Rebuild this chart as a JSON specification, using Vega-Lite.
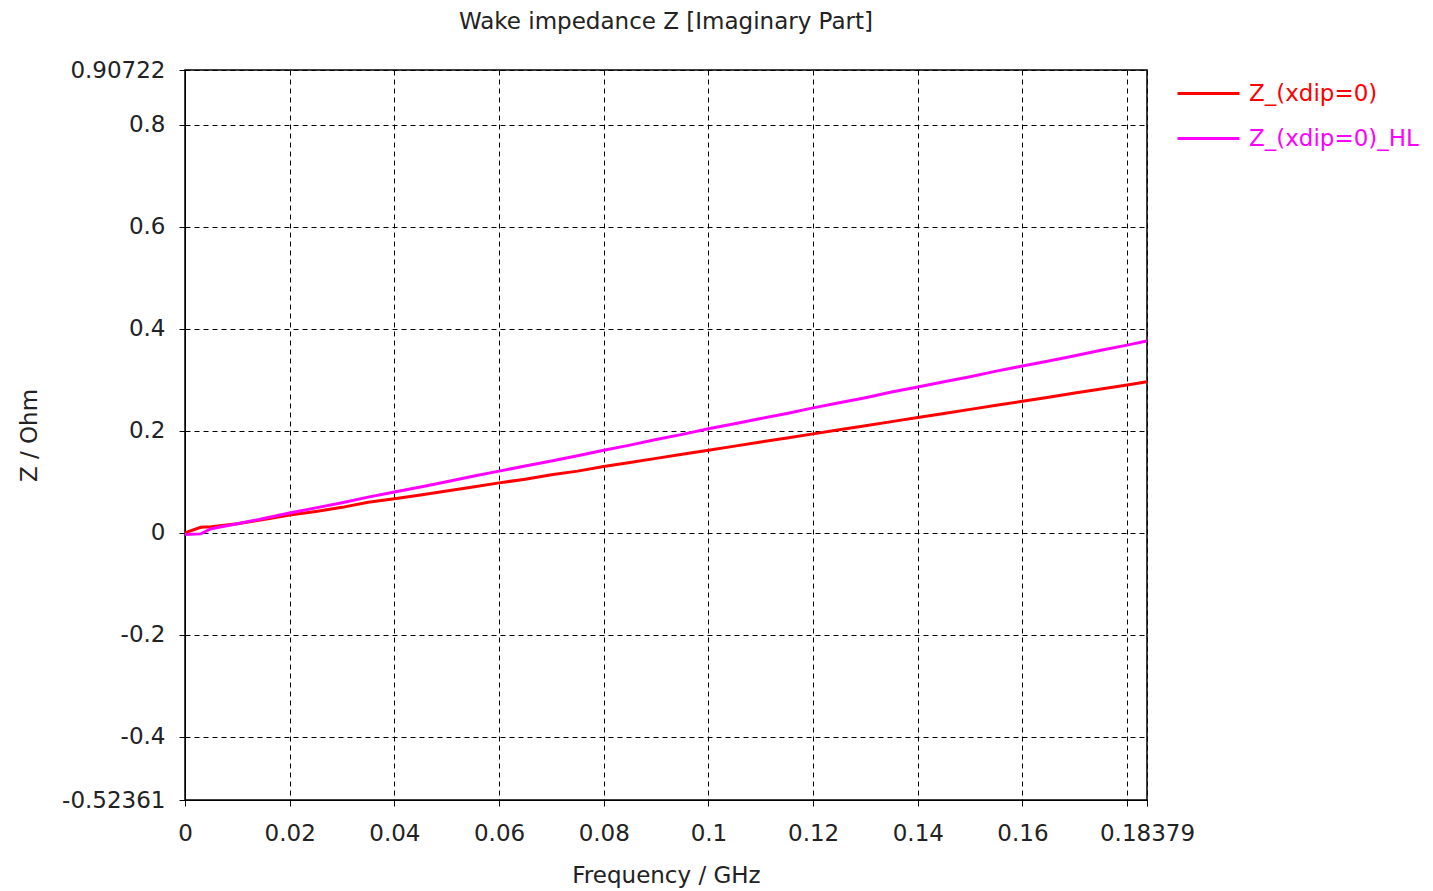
{
  "$schema": "https://vega.github.io/schema/vega-lite/v6.json",
  "width": 962,
  "height": 730,
  "autosize": {"type": "none"},
  "padding": {"left": 185, "top": 70, "right": 286, "bottom": 91},
  "background": "white",
  "title": {"text": "Wake impedance Z [Imaginary Part]", "font": "DejaVu Sans", "fontSize": 23, "fontWeight": "normal", "color": "#222", "anchor": "middle", "offset": 25},
  "config": {
    "view": {"stroke": "black", "strokeWidth": 1.5},
    "axis": {"labelFont": "DejaVu Sans", "titleFont": "DejaVu Sans", "labelFontSize": 23, "titleFontSize": 23, "titleFontWeight": "normal", "labelColor": "#222", "titleColor": "#222", "domainColor": "black", "tickColor": "black", "gridColor": "black", "gridDash": [5, 4], "gridWidth": 1, "gridOpacity": 1, "tickSize": 6}
  },
  "data": {"values": [
    {"f": 0, "z": 0, "s": "Z_(xdip=0)"},
    {"f": 0.003, "z": 0.011, "s": "Z_(xdip=0)"},
    {"f": 0.005, "z": 0.012, "s": "Z_(xdip=0)"},
    {"f": 0.01, "z": 0.018, "s": "Z_(xdip=0)"},
    {"f": 0.015, "z": 0.026, "s": "Z_(xdip=0)"},
    {"f": 0.02, "z": 0.035, "s": "Z_(xdip=0)"},
    {"f": 0.025, "z": 0.042, "s": "Z_(xdip=0)"},
    {"f": 0.03, "z": 0.05, "s": "Z_(xdip=0)"},
    {"f": 0.035, "z": 0.06, "s": "Z_(xdip=0)"},
    {"f": 0.04, "z": 0.067, "s": "Z_(xdip=0)"},
    {"f": 0.045, "z": 0.074, "s": "Z_(xdip=0)"},
    {"f": 0.05, "z": 0.082, "s": "Z_(xdip=0)"},
    {"f": 0.055, "z": 0.09, "s": "Z_(xdip=0)"},
    {"f": 0.06, "z": 0.098, "s": "Z_(xdip=0)"},
    {"f": 0.065, "z": 0.105, "s": "Z_(xdip=0)"},
    {"f": 0.07, "z": 0.114, "s": "Z_(xdip=0)"},
    {"f": 0.075, "z": 0.121, "s": "Z_(xdip=0)"},
    {"f": 0.08, "z": 0.13, "s": "Z_(xdip=0)"},
    {"f": 0.085, "z": 0.138, "s": "Z_(xdip=0)"},
    {"f": 0.09, "z": 0.146, "s": "Z_(xdip=0)"},
    {"f": 0.095, "z": 0.154, "s": "Z_(xdip=0)"},
    {"f": 0.1, "z": 0.162, "s": "Z_(xdip=0)"},
    {"f": 0.105, "z": 0.17, "s": "Z_(xdip=0)"},
    {"f": 0.11, "z": 0.178, "s": "Z_(xdip=0)"},
    {"f": 0.115, "z": 0.186, "s": "Z_(xdip=0)"},
    {"f": 0.12, "z": 0.194, "s": "Z_(xdip=0)"},
    {"f": 0.125, "z": 0.202, "s": "Z_(xdip=0)"},
    {"f": 0.13, "z": 0.21, "s": "Z_(xdip=0)"},
    {"f": 0.135, "z": 0.218, "s": "Z_(xdip=0)"},
    {"f": 0.14, "z": 0.226, "s": "Z_(xdip=0)"},
    {"f": 0.145, "z": 0.234, "s": "Z_(xdip=0)"},
    {"f": 0.15, "z": 0.242, "s": "Z_(xdip=0)"},
    {"f": 0.155, "z": 0.25, "s": "Z_(xdip=0)"},
    {"f": 0.16, "z": 0.258, "s": "Z_(xdip=0)"},
    {"f": 0.165, "z": 0.266, "s": "Z_(xdip=0)"},
    {"f": 0.17, "z": 0.274, "s": "Z_(xdip=0)"},
    {"f": 0.175, "z": 0.282, "s": "Z_(xdip=0)"},
    {"f": 0.18, "z": 0.29, "s": "Z_(xdip=0)"},
    {"f": 0.18379, "z": 0.296, "s": "Z_(xdip=0)"},
    {"f": 0, "z": -0.003, "s": "Z_(xdip=0)_HL"},
    {"f": 0.003, "z": -0.002, "s": "Z_(xdip=0)_HL"},
    {"f": 0.005, "z": 0.008, "s": "Z_(xdip=0)_HL"},
    {"f": 0.01, "z": 0.018, "s": "Z_(xdip=0)_HL"},
    {"f": 0.015, "z": 0.028, "s": "Z_(xdip=0)_HL"},
    {"f": 0.02, "z": 0.039, "s": "Z_(xdip=0)_HL"},
    {"f": 0.025, "z": 0.049, "s": "Z_(xdip=0)_HL"},
    {"f": 0.03, "z": 0.059, "s": "Z_(xdip=0)_HL"},
    {"f": 0.035, "z": 0.07, "s": "Z_(xdip=0)_HL"},
    {"f": 0.04, "z": 0.08, "s": "Z_(xdip=0)_HL"},
    {"f": 0.045, "z": 0.09, "s": "Z_(xdip=0)_HL"},
    {"f": 0.05, "z": 0.1, "s": "Z_(xdip=0)_HL"},
    {"f": 0.055, "z": 0.111, "s": "Z_(xdip=0)_HL"},
    {"f": 0.06, "z": 0.121, "s": "Z_(xdip=0)_HL"},
    {"f": 0.065, "z": 0.131, "s": "Z_(xdip=0)_HL"},
    {"f": 0.07, "z": 0.141, "s": "Z_(xdip=0)_HL"},
    {"f": 0.075, "z": 0.151, "s": "Z_(xdip=0)_HL"},
    {"f": 0.08, "z": 0.162, "s": "Z_(xdip=0)_HL"},
    {"f": 0.085, "z": 0.172, "s": "Z_(xdip=0)_HL"},
    {"f": 0.09, "z": 0.183, "s": "Z_(xdip=0)_HL"},
    {"f": 0.095, "z": 0.193, "s": "Z_(xdip=0)_HL"},
    {"f": 0.1, "z": 0.204, "s": "Z_(xdip=0)_HL"},
    {"f": 0.105, "z": 0.214, "s": "Z_(xdip=0)_HL"},
    {"f": 0.11, "z": 0.224, "s": "Z_(xdip=0)_HL"},
    {"f": 0.115, "z": 0.234, "s": "Z_(xdip=0)_HL"},
    {"f": 0.12, "z": 0.245, "s": "Z_(xdip=0)_HL"},
    {"f": 0.125, "z": 0.255, "s": "Z_(xdip=0)_HL"},
    {"f": 0.13, "z": 0.265, "s": "Z_(xdip=0)_HL"},
    {"f": 0.135, "z": 0.276, "s": "Z_(xdip=0)_HL"},
    {"f": 0.14, "z": 0.286, "s": "Z_(xdip=0)_HL"},
    {"f": 0.145, "z": 0.296, "s": "Z_(xdip=0)_HL"},
    {"f": 0.15, "z": 0.306, "s": "Z_(xdip=0)_HL"},
    {"f": 0.155, "z": 0.317, "s": "Z_(xdip=0)_HL"},
    {"f": 0.16, "z": 0.327, "s": "Z_(xdip=0)_HL"},
    {"f": 0.165, "z": 0.337, "s": "Z_(xdip=0)_HL"},
    {"f": 0.17, "z": 0.347, "s": "Z_(xdip=0)_HL"},
    {"f": 0.175, "z": 0.358, "s": "Z_(xdip=0)_HL"},
    {"f": 0.18, "z": 0.368, "s": "Z_(xdip=0)_HL"},
    {"f": 0.18379, "z": 0.376, "s": "Z_(xdip=0)_HL"}
  ]},
  "mark": {"type": "line", "strokeWidth": 3, "clip": true},
  "encoding": {
    "x": {"field": "f", "type": "quantitative", "title": "Frequency / GHz",
      "scale": {"domain": [0, 0.18379], "nice": false, "zero": false},
      "axis": {"values": [0, 0.02, 0.04, 0.06, 0.08, 0.1, 0.12, 0.14, 0.16, 0.18, 0.18379], "labelExpr": "datum.value == 0.18 ? '' : '' + datum.value", "labelPadding": 16, "titlePadding": 19, "labelFlush": false, "labelOverlap": false}},
    "y": {"field": "z", "type": "quantitative", "title": "Z / Ohm",
      "scale": {"domain": [-0.52361, 0.90722], "nice": false, "zero": false},
      "axis": {"values": [-0.52361, -0.4, -0.2, 0, 0.2, 0.4, 0.6, 0.8, 0.90722], "labelExpr": "'' + datum.value", "labelPadding": 14, "titlePadding": 20, "labelFlush": false, "labelOverlap": false}},
    "color": {"field": "s", "type": "nominal", "title": null,
      "scale": {"domain": ["Z_(xdip=0)", "Z_(xdip=0)_HL"], "range": ["#ff0000", "#ff00ff"]},
      "legend": {"orient": "none", "legendX": 991, "legendY": -9, "symbolType": "stroke", "symbolSize": 3844, "symbolStrokeWidth": 3, "labelFont": "DejaVu Sans", "labelFontSize": 23, "labelOffset": 8, "labelLimit": 0, "rowPadding": -22,
        "encode": {"labels": {"update": {"fill": {"scale": "color", "field": "value"}}}}}}
  }
}
